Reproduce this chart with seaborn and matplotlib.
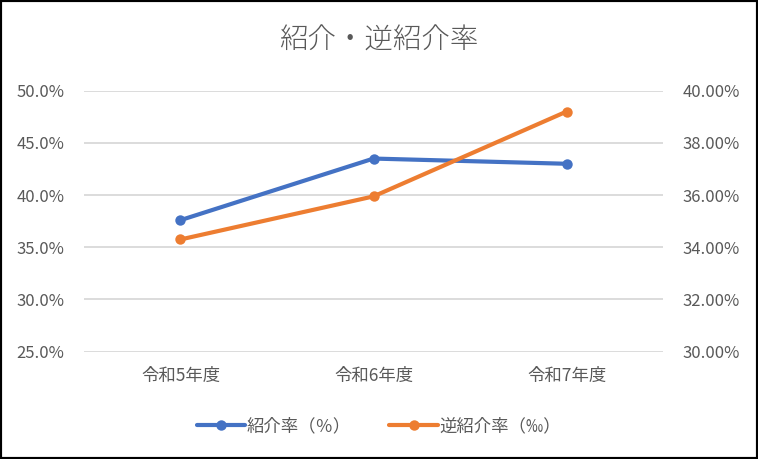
import pandas as pd
import matplotlib
matplotlib.use('Agg')
import matplotlib.pyplot as plt
import seaborn as sns
from matplotlib.ticker import FuncFormatter
from matplotlib.patches import Rectangle

# データ
years = ['令和5年度', '令和6年度', '令和7年度']
shokai = [37.6, 43.5, 43.0]      # 紹介率（％） 左軸
gyaku = [34.3, 35.95, 39.2]      # 逆紹介率 右軸

sns.set_theme(style='white')
plt.rcParams['font.family'] = ['Noto Sans CJK JP', 'DejaVu Sans']

blue = '#4472C4'
orange = '#ED7D31'
grey_text = '#595959'
grid_col = '#D9D9D9'

df = pd.DataFrame({'年度': years, '紹介率': shokai, '逆紹介率': gyaku})
df['x'] = range(len(years))

fig = plt.figure(figsize=(7.58, 4.59), dpi=100)
ax = fig.add_axes([0.1108, 0.2338, 0.7639, 0.5686])
ax2 = ax.twinx()

sns.lineplot(data=df, x='x', y='紹介率', ax=ax, color=blue, linewidth=3,
             marker='o', markersize=7.5, markeredgewidth=0, label='紹介率（％）', legend=False)
sns.lineplot(data=df, x='x', y='逆紹介率', ax=ax2, color=orange, linewidth=3,
             marker='o', markersize=7.5, markeredgewidth=0, label='逆紹介率（‰）', legend=False)

ax.set_xlim(-0.5, 2.5)
ax.set_ylim(25, 50)
ax.set_yticks([25, 30, 35, 40, 45, 50])
ax2.set_ylim(30, 40)
ax2.set_yticks([30, 32, 34, 36, 38, 40])
ax.yaxis.set_major_formatter(FuncFormatter(lambda v, p: f'{v:.1f}%'))
ax2.yaxis.set_major_formatter(FuncFormatter(lambda v, p: f'{v:.2f}%'))
ax.set_xticks(df['x'])
ax.set_xticklabels(years)

ax.yaxis.grid(True, color=grid_col, linewidth=1.3)
ax.set_axisbelow(True)
for a in (ax, ax2):
    for s in a.spines.values():
        s.set_visible(False)
    a.set_xlabel('')
    a.set_ylabel('')
    a.tick_params(length=0, labelsize=12, colors=grey_text)
ax.tick_params(axis='y', pad=14)
ax2.tick_params(axis='y', pad=14)
ax.tick_params(axis='x', pad=11, labelsize=12.5)

fig.suptitle('紹介・逆紹介率', y=0.945, fontsize=20.5, color=grey_text, fontweight='light')

h1, l1 = ax.get_legend_handles_labels()
h2, l2 = ax2.get_legend_handles_labels()
fig.legend(h1 + h2, l1 + l2, loc='center', bbox_to_anchor=(0.5, 0.072), ncol=2,
           frameon=False, fontsize=12.5, labelcolor=grey_text, handlelength=2.8,
           handletextpad=0.1, columnspacing=2.2)

fig.patches.append(Rectangle((0, 0), 1, 1, transform=fig.transFigure, fill=False,
                             edgecolor='black', linewidth=3))

fig.savefig('out.png', dpi=100)
